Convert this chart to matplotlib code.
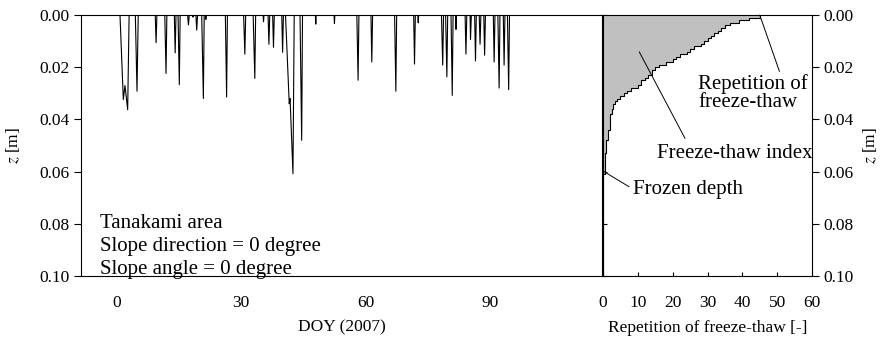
import matplotlib
matplotlib.use('Agg')
import matplotlib.pyplot as plt

plt.rcParams['font.family'] = ['Liberation Serif', 'DejaVu Serif']
plt.rcParams['mathtext.fontset'] = 'stix'

# frozen depth time series (DOY, depth in m)
doy = [-8.6,
	0.8, 1.6, 2.0, 2.65, 3.0,
	4.5, 4.9, 5.2,
	9.3, 9.5, 9.7,
	11.6, 11.9, 12.1,
	13.9, 14.1, 14.3,
	14.8, 15.1, 15.3,
	17.1, 17.3, 17.5,
	18.3, 18.4, 18.5,
	19.1, 19.3, 19.5,
	20.5, 20.9, 21.1,
	21.4, 21.5, 21.6,
	26.2, 26.5, 26.7,
	30.6, 30.9, 31.1,
	32.9, 33.3, 33.5,
	35.3, 35.4, 35.5,
	36.5, 36.7, 36.9,
	37.6, 37.8, 38.0,
	39.8, 40.0, 40.2,
	40.7, 41.6, 41.8, 42.5, 42.8,
	44.2, 44.6, 44.8,
	47.9, 48.0, 48.1,
	52.4, 52.5, 52.6,
	57.9, 58.2, 58.4,
	61.3, 61.5, 61.7,
	67.0, 67.3, 67.5,
	71.6, 71.8, 72.0,
	72.6, 72.7, 72.8,
	78.3, 78.6, 78.8,
	79.3, 79.6, 79.8,
	80.6, 80.9, 81.1,
	81.7, 81.8, 81.9,
	84.0, 84.2, 84.4,
	85.2, 85.3, 85.5,
	86.3, 86.5, 86.7,
	87.4, 87.6, 87.8,
	88.5, 88.7, 88.9,
	90.8, 91.0, 91.2,
	91.9, 92.2, 92.4,
	93.2, 93.4, 93.6,
	94.2, 94.5, 94.7,
	117.0]
frozen = [0.0,
	0.0, 0.0324, 0.0270, 0.0363, 0.0,
	0.0, 0.0292, 0.0,
	0.0, 0.0106, 0.0,
	0.0, 0.0224, 0.0,
	0.0, 0.0145, 0.0,
	0.0, 0.0267, 0.0,
	0.0, 0.0038, 0.0,
	0.0, 0.0008, 0.0,
	0.0, 0.0058, 0.0,
	0.0, 0.0320, 0.0,
	0.0, 0.0017, 0.0,
	0.0, 0.0314, 0.0,
	0.0, 0.0150, 0.0,
	0.0, 0.0243, 0.0,
	0.0, 0.0026, 0.0,
	0.0, 0.0112, 0.0,
	0.0, 0.0124, 0.0,
	0.0, 0.0143, 0.0,
	0.0, 0.0340, 0.0320, 0.0608, 0.0,
	0.0, 0.0480, 0.0,
	0.0, 0.0035, 0.0,
	0.0, 0.0032, 0.0,
	0.0, 0.0250, 0.0,
	0.0, 0.0180, 0.0,
	0.0, 0.0292, 0.0,
	0.0, 0.0188, 0.0,
	0.0, 0.0030, 0.0,
	0.0, 0.0192, 0.0,
	0.0, 0.0237, 0.0,
	0.0, 0.0308, 0.0,
	0.0, 0.0055, 0.0,
	0.0, 0.0150, 0.0,
	0.0, 0.0094, 0.0,
	0.0, 0.0176, 0.0,
	0.0, 0.0112, 0.0,
	0.0, 0.0154, 0.0,
	0.0, 0.0180, 0.0,
	0.0, 0.0280, 0.0,
	0.0, 0.0192, 0.0,
	0.0, 0.0286, 0.0,
	0.0]

# repetition of freeze-thaw per depth layer
layer_z = [0.000, 0.001, 0.002, 0.003, 0.004, 0.005, 0.006, 0.007, 0.008, 0.009,
	0.010, 0.011, 0.012, 0.013, 0.014, 0.015, 0.016, 0.017, 0.018, 0.019,
	0.020, 0.021, 0.022, 0.023, 0.024, 0.025, 0.026, 0.027, 0.028, 0.029,
	0.030, 0.031, 0.032, 0.033, 0.034, 0.035, 0.036, 0.037, 0.038, 0.039,
	0.040, 0.041, 0.042, 0.043, 0.044, 0.045, 0.046, 0.047, 0.048, 0.049,
	0.050, 0.051, 0.052, 0.053, 0.054, 0.055, 0.056, 0.057, 0.058, 0.059,
	0.060, 0.061]
repetition = [45, 42, 39, 36.5, 35, 34, 33, 32, 31, 30,
	29, 28, 26, 25, 24, 22, 21, 20, 18, 16,
	15, 14, 14, 13, 12, 11, 11, 10, 8, 7,
	6, 5, 4, 3.5, 3, 3, 2.5, 2.5, 2, 2,
	2, 2, 2, 2, 1.5, 1.5, 1.5, 1.5, 1, 1,
	1, 1, 1, 0.5, 0.5, 0.5, 0.5, 0.5, 0.5, 0.5,
	0.5, 0]

doy_ticks = [0, 30, 60, 90]
z_ticks = [0.00, 0.02, 0.04, 0.06, 0.08, 0.10]
rep_ticks = [0, 10, 20, 30, 40, 50, 60]

site_text = ['Tanakami area', 'Slope direction = 0 degree', 'Slope angle = 0 degree']

tick_fs = 12.5
note_fs = 15

fig = plt.figure(figsize=(8.82, 3.43), dpi=100)
W, H = 882.0, 343.0
ax1 = fig.add_axes([81/W, 1-276/H, 521/W, 261/H])
ax2 = fig.add_axes([603/W, 1-276/H, 209/W, 261/H])

# left: frozen depth against DOY
ax1.plot(doy, frozen, color='black', linewidth=0.8)
ax1.set_xlim(-8.6, 117)
ax1.set_ylim(0.10, 0.0)
ax1.set_xticks(doy_ticks)
ax1.set_yticks(z_ticks)
ax1.set_yticklabels(['%.2f' % v for v in z_ticks])
ax1.tick_params(axis='x', length=0, pad=14, labelsize=tick_fs)
ax1.tick_params(axis='y', direction='out', length=5, labelsize=tick_fs)
ax1.set_xlabel('DOY (2007)', fontsize=tick_fs, labelpad=6)
ax1.set_ylabel(r'$z$ [m]', fontsize=tick_fs, labelpad=12)
for i, s in enumerate(site_text):
	ax1.text(-4.0, 0.0798 + i*0.0089, s, fontsize=note_fs, va='center', ha='left')

# right: repetition of freeze-thaw profile
ax2.fill_betweenx(layer_z, 0, repetition, step='post', color='#c0c0c0', linewidth=0)
ax2.plot(repetition, layer_z, color='black', linewidth=0.8, drawstyle='steps-pre')
ax2.set_xlim(0, 60)
ax2.set_ylim(0.10, 0.0)
ax2.set_xticks(rep_ticks)
ax2.set_yticks(z_ticks)
ax2.set_yticklabels(['%.2f' % v for v in z_ticks])
ax2.yaxis.tick_right()
ax2.yaxis.set_label_position('right')
ax2.tick_params(axis='x', direction='in', length=3, pad=14, labelsize=tick_fs)
ax2.tick_params(axis='y', direction='out', length=5, labelsize=tick_fs)
ax2.set_xlabel('Repetition of freeze-thaw [-]', fontsize=tick_fs, labelpad=6)
ax2.set_ylabel(r'$z$ [m]', fontsize=tick_fs, labelpad=5)

# inward ticks on the left side of the profile panel
inner = ax2.secondary_yaxis('left')
inner.set_yticks(z_ticks)
inner.tick_params(direction='in', length=3, labelleft=False)
inner.spines['left'].set_linewidth(0.8)

ax2.annotate('Repetition of\nfreeze-thaw', xy=(45, 0.0), xytext=(27.3, 0.0300),
	fontsize=note_fs, va='center', ha='left', linespacing=0.95,
	arrowprops=dict(arrowstyle='-', color='black', linewidth=0.7,
		shrinkA=0, shrinkB=0, relpos=(0.75, 1.0)))
ax2.annotate('Freeze-thaw index', xy=(10.4, 0.0141), xytext=(15.4, 0.0529),
	fontsize=note_fs, va='center', ha='left',
	arrowprops=dict(arrowstyle='-', color='black', linewidth=0.7,
		shrinkA=2, shrinkB=0, relpos=(0.2, 1.0)))
ax2.annotate('Frozen depth', xy=(0.3, 0.0600), xytext=(8.6, 0.0667),
	fontsize=note_fs, va='center', ha='left',
	arrowprops=dict(arrowstyle='-', color='black', linewidth=0.7,
		shrinkA=1, shrinkB=0, relpos=(0.0, 0.5)))

for ax in (ax1, ax2):
	for sp in ax.spines.values():
		sp.set_linewidth(0.8)

fig.savefig('out.png', dpi=100)
plt.close()
